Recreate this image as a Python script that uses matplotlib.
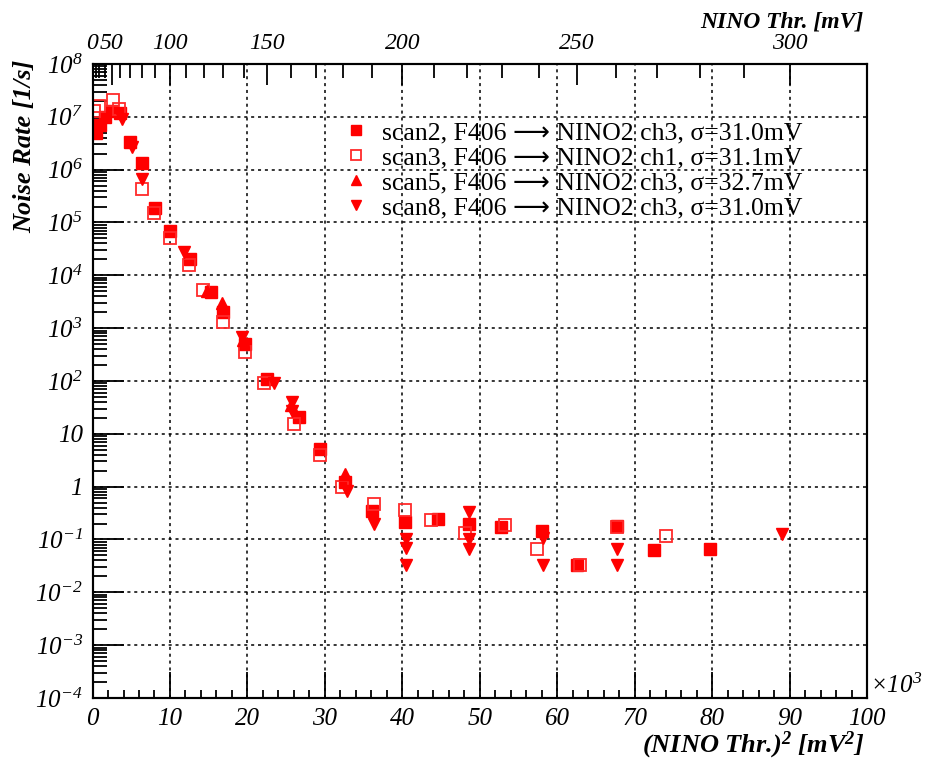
import matplotlib
matplotlib.use("Agg")
import matplotlib.pyplot as plt
from matplotlib.ticker import FixedLocator, LogLocator, NullFormatter, FixedFormatter
import numpy as np

plt.rcParams['font.family'] = ['Liberation Serif', 'DejaVu Sans']
plt.rcParams['mathtext.fontset'] = 'custom'
plt.rcParams['mathtext.rm'] = 'Liberation Serif:italic'
plt.rcParams['mathtext.it'] = 'Liberation Serif:italic'
plt.rcParams['mathtext.bf'] = 'Liberation Serif:bold:italic'

# (NINO Thr.)^2 in units of 10^3 mV^2, noise rate in 1/s
scan2_x = [0.4, 1.0, 1.6, 2.5, 3.6, 4.9, 6.4, 8.1, 10.0, 12.6, 15.3, 16.8, 19.7, 22.5,
           26.7, 29.4, 32.6, 36.1, 40.3, 44.6, 48.6, 52.7, 58.0, 62.6, 67.7, 72.5, 79.7]
scan2_y = [5e6, 7e6, 1.0e7, 1.3e7, 1.2e7, 3.3e6, 1.35e6, 1.9e5, 7e4, 2e4, 4.8e3, 2e3, 500, 110,
           21, 5.2, 1.2, 0.35, 0.21, 0.24, 0.2, 0.17, 0.145, 0.033, 0.18, 0.063, 0.066]

scan3_x = [0.2, 0.9, 2.6, 3.4, 6.4, 8.0, 10.0, 12.4, 14.2, 16.9, 19.7, 22.2, 26.0, 29.4,
           32.2, 36.3, 40.4, 43.7, 48.1, 53.3, 57.4, 62.9, 67.7, 74.0]
scan3_y = [1.3e7, 1.6e7, 2.1e7, 1.4e7, 4.3e5, 1.5e5, 5e4, 1.6e4, 5.2e3, 1.3e3, 350, 90, 15.5, 4,
           1.0, 0.47, 0.36, 0.23, 0.13, 0.19, 0.066, 0.033, 0.17, 0.117]

scan5_x = [14.8, 16.7, 19.4, 25.6, 32.6]
scan5_y = [5e3, 3e3, 600, 35, 1.7]

scan8_x = [3.8, 5.1, 6.4, 11.8, 19.3, 23.4, 25.8, 25.7, 32.8, 36.4, 40.5, 40.5, 40.5,
           48.6, 48.6, 48.6, 58.1, 58.1, 67.7, 67.7, 89.0]
scan8_y = [9e6, 2.7e6, 6.6e5, 2.8e4, 680, 92, 40, 27, 0.83, 0.2, 0.1, 0.07, 0.033,
           0.33, 0.1, 0.066, 0.107, 0.033, 0.066, 0.033, 0.126]

labels = ["scan2, F406 \u27f6 NINO2 ch3, σ=31.0mV",
          "scan3, F406 \u27f6 NINO2 ch1, σ=31.1mV",
          "scan5, F406 \u27f6 NINO2 ch3, σ=32.7mV",
          "scan8, F406 \u27f6 NINO2 ch3, σ=31.0mV"]

top_major_mv = [0, 50, 100, 150, 200, 250, 300]
top_minor_mv = list(range(10, 310, 10))

fig = plt.figure(figsize=(9.29, 7.66), dpi=100)
ax = fig.add_axes([0.0996, 0.0888, 0.8337, 0.8277])

red = '#ff0000'
h2, = ax.plot(scan2_x, scan2_y, ls='none', marker='s', ms=8.5, color=red, mec=red)
h3, = ax.plot(scan3_x, scan3_y, ls='none', marker='s', ms=8.5, mfc='none', mec='#ff2a2a', mew=1.3)
h5, = ax.plot(scan5_x, scan5_y, ls='none', marker='^', ms=9, color=red, mec=red)
h8, = ax.plot(scan8_x, scan8_y, ls='none', marker='v', ms=9, color=red, mec=red)

ax.set_yscale('log')
ax.set_xlim(0, 100)
ax.set_ylim(1e-4, 1e8)

ax.xaxis.set_major_locator(FixedLocator(np.arange(0, 101, 10)))
ax.xaxis.set_minor_locator(FixedLocator(np.arange(0, 101, 2)))
ax.yaxis.set_major_locator(LogLocator(base=10, numticks=20))
ax.yaxis.set_minor_locator(LogLocator(base=10, subs=np.arange(2, 10), numticks=20))
ax.yaxis.set_minor_formatter(NullFormatter())

def ylab(v, pos):
    e = int(round(np.log10(v)))
    if e == 0:
        return "1"
    if e == 1:
        return "10"
    return "10$^{%d}$" % e

ax.yaxis.set_major_formatter(plt.FuncFormatter(ylab))
ax.tick_params(axis='both', which='both', direction='in', top=False, right=False,
               labelsize=18, width=1.3)
ax.tick_params(axis='x', which='major', length=19, pad=7)
ax.tick_params(axis='x', which='minor', length=6)
ax.tick_params(axis='y', which='major', length=22, pad=7)
ax.tick_params(axis='y', which='minor', length=10)
for t in ax.get_xticklabels() + ax.get_yticklabels():
    t.set_fontstyle('italic')
for s in ax.spines.values():
    s.set_linewidth(1.5)

ax.grid(True, which='major', color='black', linestyle=(0, (2, 2.5)), linewidth=1.1)
ax.set_axisbelow(True)

# top axis in mV
axt = ax.twiny()
axt.set_xlim(ax.get_xlim())
axt.xaxis.set_major_locator(FixedLocator([v * v / 1000 for v in top_major_mv]))
axt.xaxis.set_minor_locator(FixedLocator([v * v / 1000 for v in top_minor_mv]))
axt.xaxis.set_major_formatter(FixedFormatter([str(v) for v in top_major_mv]))
axt.tick_params(axis='x', which='major', direction='in', length=15, width=1.3, labelsize=17, pad=7)
axt.tick_params(axis='x', which='minor', direction='in', length=10, width=1.3)
for t in axt.get_xticklabels():
    t.set_fontstyle('italic')
for s in axt.spines.values():
    s.set_linewidth(1.5)

ax.legend([h2, h3, h5, h8], labels, loc='upper left', bbox_to_anchor=(343 / 929, 1 - 121 / 766),
          bbox_transform=fig.transFigure, frameon=False, fontsize=18.5, handlelength=1.0,
          handletextpad=0.5, labelspacing=0.08, borderpad=0, borderaxespad=0, markerscale=0.8)

fig.text(25 / 929, 1 - 60 / 766, "Noise Rate [1/s]", rotation=90, ha='center', va='top',
         fontsize=19, fontweight='bold', fontstyle='italic')
fig.text(865 / 929, 1 - 745 / 766, r"(NINO Thr.)$^{\mathbf{2}}$ [mV$^{\mathbf{2}}$]", ha='right', va='center',
         fontsize=19, fontweight='bold', fontstyle='italic')
fig.text(863 / 929, 1 - 22 / 766, "NINO Thr. [mV]", ha='right', va='center',
         fontsize=17, fontweight='bold', fontstyle='italic')
fig.text(870 / 929, 1 - 686 / 766, r"×10$^{3}$", ha='left', va='center',
         fontsize=18, fontstyle='italic')

fig.savefig("out.png", dpi=100)
